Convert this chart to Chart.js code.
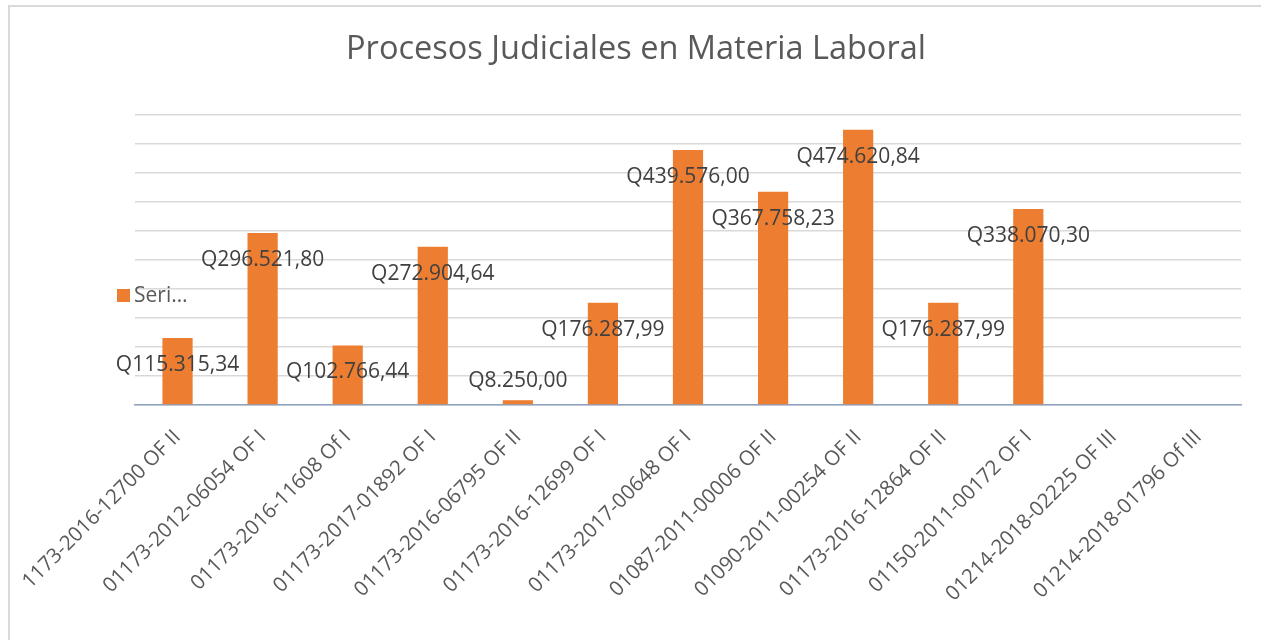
<!DOCTYPE html>
<html>
<head>
<meta charset="utf-8">
<script src="https://cdn.jsdelivr.net/npm/chart.js@4/dist/chart.umd.min.js"></script>
<style>
  html, body { margin: 0; padding: 0; background: #fff; }
  #wrap { width: 1261px; height: 640px; position: relative; }
</style>
</head>
<body>
<div id="wrap"><canvas id="procesos" width="1261" height="640"></canvas></div>
<script>
// datos
const chartTitle = "Procesos Judiciales en Materia Laboral";
const seriesName = "Serie1";
const casos = [
  "1173-2016-12700 OF II",
  "01173-2012-06054 OF I",
  "01173-2016-11608 Of I",
  "01173-2017-01892 OF I",
  "01173-2016-06795 OF II",
  "01173-2016-12699 OF I",
  "01173-2017-00648 OF I",
  "01087-2011-00006 OF II",
  "01090-2011-00254 OF II",
  "01173-2016-12864 OF II",
  "01150-2011-00172 OF I",
  "01214-2018-02225 OF III",
  "01214-2018-01796 Of III"
];
const montos = [115315.34, 296521.80, 102766.44, 272904.64, 8250.00, 176287.99,
  439576.00, 367758.23, 474620.84, 176287.99, 338070.30, null, null];
const yMax = 500000;
const yStep = 50000;

const naranja = '#ED7D31';

// formato Q123.456,78
function quetzales(v) {
  let partes = v.toFixed(2).split('.');
  let entero = partes[0].replace(/\B(?=(\d{3})+(?!\d))/g, '.');
  return 'Q' + entero + ',' + partes[1];
}

const extras = {
  id: 'extras',
  beforeDraw(chart) {
    const ctx = chart.ctx;
    ctx.save();
    // borde del grafico
    ctx.strokeStyle = '#D9D9D9';
    ctx.lineWidth = 2;
    ctx.beginPath();
    ctx.moveTo(9, 640);
    ctx.lineTo(9, 6);
    ctx.lineTo(1261, 6);
    ctx.stroke();
    // titulo
    ctx.fillStyle = '#595959';
    ctx.font = '32.5px "Open Sans"';
    ctx.textAlign = 'center';
    ctx.textBaseline = 'middle';
    ctx.fillText(chartTitle, 636, 50);
    ctx.restore();
  },
  afterDatasetsDraw(chart) {
    const ctx = chart.ctx;
    const meta = chart.getDatasetMeta(0);
    const base = chart.scales.y.getPixelForValue(0);
    ctx.save();
    ctx.font = '21px "Open Sans"';
    ctx.fillStyle = '#404040';
    ctx.textAlign = 'center';
    ctx.textBaseline = 'middle';
    meta.data.forEach((bar, i) => {
      const v = montos[i];
      if (v == null) return;
      const y = Math.min(bar.y + 27, base - 24);
      ctx.fillText(quetzales(v), bar.x, y);
    });
    // leyenda
    ctx.fillStyle = naranja;
    ctx.fillRect(117, 289, 13, 13);
    ctx.fillStyle = '#595959';
    ctx.textAlign = 'left';
    ctx.fillText('Seri\u2026', 134, 296);
    ctx.restore();
  }
};

const config = {
  type: 'bar',
  data: {
    labels: casos,
    datasets: [{
      label: seriesName,
      data: montos,
      backgroundColor: naranja,
      categoryPercentage: 1,
      barPercentage: 0.355
    }]
  },
  options: {
    responsive: false,
    animation: false,
    layout: { padding: { top: 115, left: 135, right: 20, bottom: 0 } },
    plugins: {
      legend: { display: false },
      title: { display: false },
      tooltip: { enabled: false }
    },
    scales: {
      x: {
        grid: { display: false },
        border: { display: true, color: '#8EA2BE', width: 1.5 },
        ticks: {
          color: '#595959',
          font: { family: 'Open Sans', size: 20.5 },
          minRotation: 45,
          maxRotation: 45,
          padding: 12,
          autoSkip: false
        },
        afterFit(scale) {
          scale.height = 235;
          scale.paddingLeft = 0;
          scale.paddingRight = 0;
        }
      },
      y: {
        min: 0,
        max: yMax,
        ticks: { display: false, stepSize: yStep },
        grid: { color: '#D9D9D9', lineWidth: 1.5, drawTicks: false },
        border: { display: false },
        afterFit(scale) {
          scale.width = 0;
        }
      }
    }
  },
  plugins: [extras]
};

const grafica = new Chart(document.getElementById('procesos'), config);
</script>
</body>
</html>
